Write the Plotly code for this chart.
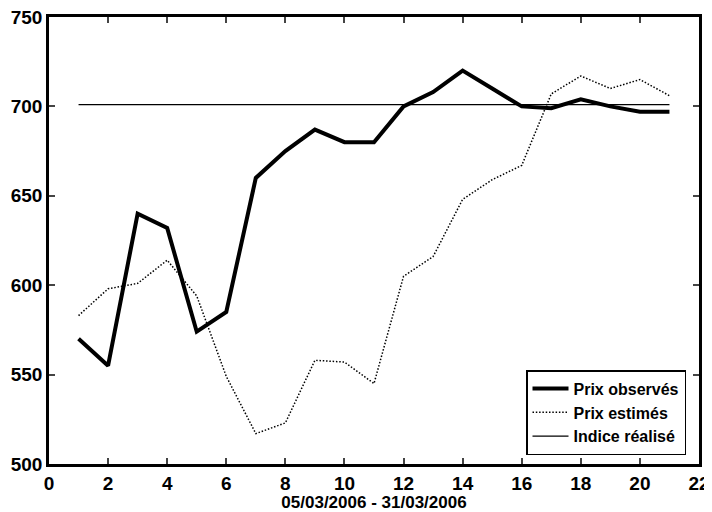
import plotly.graph_objects as go

days = list(range(1, 22))
prix_observes = [570, 555, 640, 632, 574, 585, 660, 675, 687, 680, 680, 700, 708, 720, 710, 700, 699, 704, 700, 697, 697]
prix_estimes = [583, 598, 601, 614, 594, 549, 517, 523, 558, 557, 545, 605, 616, 648, 659, 667, 707, 717, 710, 715, 706]
indice_realise = [701] * 21

x_ticks = list(range(0, 23, 2))
y_ticks = [500, 550, 600, 650, 700, 750]

fig = go.Figure()
fig.add_trace(go.Scatter(x=days, y=prix_observes, mode="lines", name="Prix observés",
                         line=dict(color="black", width=4)))
fig.add_trace(go.Scatter(x=days, y=prix_estimes, mode="lines", name="Prix estimés",
                         line=dict(color="black", width=1.5, dash="1.5px,1.8px")))
fig.add_trace(go.Scatter(x=days, y=indice_realise, mode="lines", name="Indice réalisé",
                         line=dict(color="black", width=1.3)))

fam = "Arial"
fig.update_layout(
    width=704, height=504,
    margin=dict(l=41, r=13, t=9, b=48),
    paper_bgcolor="white", plot_bgcolor="white",
    font=dict(family=fam, color="black", weight=700),
    showlegend=True,
    legend=dict(x=0.98, y=0.02, xanchor="right", yanchor="bottom",
                bgcolor="white", bordercolor="black", borderwidth=1.5,
                font=dict(size=16, family=fam, weight=700),
                tracegroupgap=0, itemwidth=36),
    hovermode=False,
)
fig.update_xaxes(range=[0, 22], tickvals=x_ticks,
                 ticks="inside", ticklen=6, tickwidth=1.5,
                 showline=True, linecolor="black", linewidth=2.5, mirror="ticks",
                 showgrid=False, zeroline=False, automargin=False,
                 ticklabeloverflow="allow",
                 tickfont=dict(size=19, family=fam, weight=700),
                 title=dict(text="05/03/2006 - 31/03/2006", standoff=10,
                            font=dict(size=17, family=fam, weight=700)))
fig.update_yaxes(range=[500, 750], tickvals=y_ticks,
                 ticks="inside", ticklen=6, tickwidth=1.5,
                 showline=True, linecolor="black", linewidth=2.5, mirror="ticks",
                 showgrid=False, zeroline=False, automargin=False,
                 ticklabeloverflow="allow",
                 tickfont=dict(size=19, family=fam, weight=700))

fig.write_html("out.html")
